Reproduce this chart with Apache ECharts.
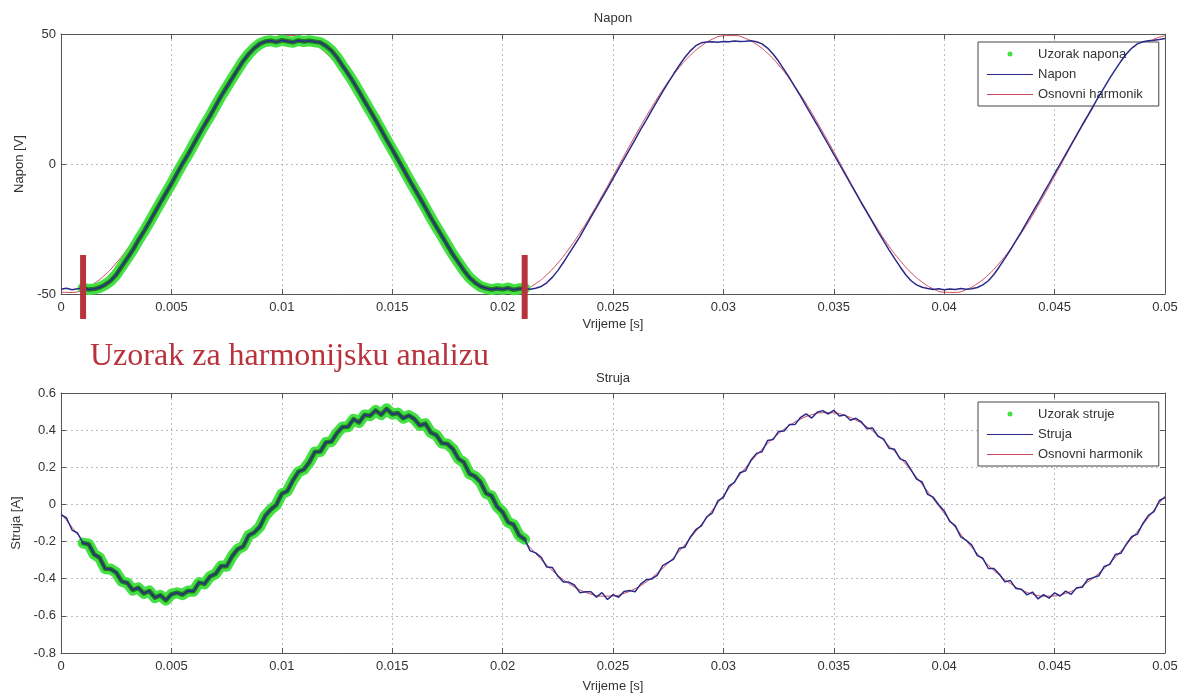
<!DOCTYPE html>
<html><head><meta charset="utf-8">
<script src="https://cdn.jsdelivr.net/npm/echarts@6/dist/echarts.min.js"></script>
<style>html,body{margin:0;padding:0;background:#fff}#c{width:1188px;height:698px}</style>
</head><body><div id="c"></div>
<script>
// time step of the measured signals and of the fitted fundamental [s]
const T_STEP = 0.00025;
const H_STEP = 0.0005;
// analysed window (one period)
const SAMPLE_START = 0.001;
const SAMPLE_END = 0.021;

// x axis ticks [s]
const X_MIN = 0, X_MAX = 0.05, X_INT = 0.005;
// y axis ticks
const V_MIN = -50, V_MAX = 50, V_INT = 50;
const I_MIN = -0.8, I_MAX = 0.6, I_INT = 0.2;

// measured voltage [V], every T_STEP
const napon = [
 -48.2,-47.8,-48.4,-48.0,-47.7,-48.3,-48.1,-47.5,-46.4,-44.9,
 -42.6,-39.4,-36.3,-33.1,-29.4,-26.0,-22.4,-18.6,-14.9,-11.2,
 -7.6,-3.7,0.1,3.6,7.5,11.3,15.0,18.5,22.3,26.1,
 29.5,32.9,36.3,39.6,42.3,44.5,46.2,47.1,47.4,46.9,
 47.6,47.2,46.8,47.5,47.1,47.4,47.0,46.7,45.4,43.6,
 41.0,37.8,34.7,31.4,27.8,24.1,20.5,16.9,13.1,9.3,
 5.6,1.9,-1.9,-5.7,-9.4,-13.0,-16.8,-20.6,-24.2,-27.7,
 -31.3,-34.8,-37.9,-41.0,-43.7,-45.6,-47.1,-47.8,-48.3,-47.9,
 -48.2,-47.7,-48.4,-48.0,-47.8,-48.2,-47.8,-47.1,-45.7,-43.6,
 -41.0,-37.9,-34.6,-31.3,-27.9,-24.2,-20.4,-16.8,-13.1,-9.5,
 -5.6,-1.9,1.9,5.6,9.4,13.2,16.8,20.5,24.2,27.8,
 31.3,34.7,37.9,41.0,43.5,45.5,46.6,46.9,47.0,46.8,
 47.1,47.0,47.3,47.1,47.2,47.4,47.0,46.2,44.6,42.3,
 39.5,36.3,33.0,29.5,26.0,22.3,18.6,15.0,11.2,7.5,
 3.7,0.0,-3.7,-7.5,-11.2,-15.0,-18.6,-22.3,-26.0,-29.5,
 -33.0,-36.3,-39.5,-42.5,-44.9,-46.5,-47.4,-47.9,-48.3,-48.0,
 -48.4,-48.1,-48.3,-47.9,-48.2,-48.0,-47.5,-46.5,-44.9,-42.5,
 -39.5,-36.3,-33.0,-29.5,-26.0,-22.3,-18.6,-15.0,-11.2,-7.5,
 -3.7,0.0,3.7,7.5,11.2,15.0,18.6,22.3,26.0,29.5,
 33.0,36.3,39.5,42.3,44.6,46.2,47.0,47.4,47.6,47.9,
 48.3
];

// fundamental of the voltage [V], every H_STEP
const naponHarmonik = [
 -49.3,-49.4,-48.3,-46.0,-42.6,-38.1,-32.7,-26.5,-19.7,-12.3,
 -4.7,3.1,10.8,18.2,25.2,31.6,37.1,41.8,45.4,48.0,
 49.3,49.4,48.3,46.0,42.6,38.1,32.7,26.5,19.7,12.3,
 4.7,-3.1,-10.8,-18.2,-25.2,-31.6,-37.1,-41.8,-45.4,-48.0,
 -49.3,-49.4,-48.3,-46.0,-42.6,-38.1,-32.7,-26.5,-19.7,-12.3,
 -4.7,3.1,10.8,18.2,25.2,31.6,37.1,41.8,45.4,48.0,
 49.3,49.4,48.3,46.0,42.6,38.1,32.7,26.5,19.7,12.3,
 4.7,-3.1,-10.8,-18.2,-25.2,-31.6,-37.1,-41.8,-45.4,-48.0,
 -49.3,-49.4,-48.3,-46.0,-42.6,-38.1,-32.7,-26.5,-19.7,-12.3,
 -4.7,3.1,10.8,18.2,25.2,31.6,37.1,41.8,45.4,48.0,
 49.3
];

// measured current [A], every T_STEP
const struja = [
 -0.055,-0.073,-0.138,-0.154,-0.208,-0.214,-0.269,-0.287,-0.346,-0.348,
 -0.367,-0.414,-0.423,-0.461,-0.449,-0.479,-0.466,-0.502,-0.489,-0.516,
 -0.484,-0.475,-0.486,-0.466,-0.468,-0.421,-0.428,-0.388,-0.374,-0.332,
 -0.333,-0.279,-0.241,-0.226,-0.167,-0.151,-0.121,-0.061,-0.027,-0.003,
 0.057,0.072,0.129,0.175,0.188,0.228,0.283,0.285,0.334,0.339,
 0.384,0.417,0.418,0.459,0.441,0.482,0.478,0.506,0.483,0.515,
 0.486,0.492,0.464,0.479,0.460,0.425,0.435,0.387,0.373,0.330,
 0.326,0.298,0.246,0.226,0.165,0.151,0.120,0.060,0.046,-0.012,
 -0.041,-0.096,-0.109,-0.167,-0.188,-0.250,-0.261,-0.285,-0.337,-0.339,
 -0.386,-0.418,-0.418,-0.434,-0.475,-0.470,-0.470,-0.499,-0.475,-0.512,
 -0.486,-0.500,-0.469,-0.463,-0.470,-0.429,-0.406,-0.402,-0.382,-0.330,
 -0.312,-0.294,-0.236,-0.231,-0.176,-0.136,-0.116,-0.067,-0.045,0.019,
 0.038,0.098,0.119,0.171,0.181,0.239,0.275,0.284,0.344,0.349,
 0.393,0.395,0.431,0.431,0.469,0.488,0.465,0.496,0.505,0.487,
 0.507,0.476,0.482,0.453,0.464,0.444,0.407,0.412,0.367,0.353,
 0.303,0.297,0.245,0.233,0.186,0.136,0.121,0.054,0.039,-0.002,
 -0.035,-0.091,-0.114,-0.175,-0.193,-0.219,-0.276,-0.290,-0.345,-0.345,
 -0.376,-0.417,-0.410,-0.453,-0.457,-0.487,-0.472,-0.509,-0.486,-0.505,
 -0.476,-0.493,-0.467,-0.484,-0.448,-0.446,-0.404,-0.394,-0.384,-0.334,
 -0.323,-0.270,-0.263,-0.214,-0.173,-0.160,-0.102,-0.059,-0.039,0.021,
 0.037
];

// fundamental of the current [A], every H_STEP
const strujaHarmonik = [
 -0.047,-0.123,-0.197,-0.265,-0.327,-0.381,-0.426,-0.460,-0.483,-0.494,
 -0.493,-0.479,-0.454,-0.418,-0.371,-0.316,-0.252,-0.182,-0.108,-0.031,
 0.047,0.123,0.197,0.265,0.327,0.381,0.426,0.460,0.483,0.494,
 0.493,0.479,0.454,0.418,0.371,0.316,0.252,0.182,0.108,0.031,
 -0.047,-0.123,-0.197,-0.265,-0.327,-0.381,-0.426,-0.460,-0.483,-0.494,
 -0.493,-0.479,-0.454,-0.418,-0.371,-0.316,-0.252,-0.182,-0.108,-0.031,
 0.047,0.123,0.197,0.265,0.327,0.381,0.426,0.460,0.483,0.494,
 0.493,0.479,0.454,0.418,0.371,0.316,0.252,0.182,0.108,0.031,
 -0.047,-0.123,-0.197,-0.265,-0.327,-0.381,-0.426,-0.460,-0.483,-0.494,
 -0.493,-0.479,-0.454,-0.418,-0.371,-0.316,-0.252,-0.182,-0.108,-0.031,
 0.047
];

const LEG_V = ['Uzorak napona', 'Napon', 'Osnovni harmonik'];
const LEG_I = ['Uzorak struje', 'Struja', 'Osnovni harmonik'];

// ---------- build ----------
const pairs = (arr, step) => arr.map((v, i) => [+(i * step).toFixed(6), v]);
const inWindow = p => p[0] >= SAMPLE_START - 1e-9 && p[0] <= SAMPLE_END + 1e-9;

const vData = pairs(napon, T_STEP);
const vHarm = pairs(naponHarmonik, H_STEP);
const iData = pairs(struja, T_STEP);
const iHarm = pairs(strujaHarmonik, H_STEP);

const FONT = 'Liberation Sans, Arial, sans-serif';
const TXT = '#333';
const GREEN = '#45e045';
const GREEN_DARK = '#1f7a1f';
const NAVY = '#2a2a8a';
const RED = '#cc4a5c';
const DOT_ICON = 'path://M0,0 M46,14 M20.5,7 A2.5,2.5 0 1,0 25.5,7 A2.5,2.5 0 1,0 20.5,7 Z';
const LINE_ICON = 'path://M0,6.5 L46,6.5 L46,7.6 L0,7.6 Z';

const fmt = (d) => (v) => String(+(+v).toFixed(d));

function xAxes(grid, nameGap) {
  return [{
    gridIndex: grid, type: 'value', min: X_MIN, max: X_MAX, interval: X_INT, position: 'bottom',
    name: 'Vrijeme [s]', nameLocation: 'middle', nameGap: nameGap,
    nameTextStyle: { fontSize: 13, color: TXT, fontFamily: FONT },
    axisLine: { show: true, onZero: false, lineStyle: { color: '#555', width: 1 } },
    axisTick: { show: true, inside: true, length: 5, lineStyle: { color: '#555' } },
    axisLabel: { margin: 7, fontSize: 13, color: TXT, fontFamily: FONT, formatter: fmt(4) },
    splitLine: { show: true, lineStyle: { color: '#bdbdbd', type: [2, 3], width: 1 } }
  }, {
    gridIndex: grid, type: 'value', min: X_MIN, max: X_MAX, interval: X_INT, position: 'top',
    axisLine: { show: true, onZero: false, lineStyle: { color: '#555', width: 1 } },
    axisTick: { show: true, inside: true, length: 5, lineStyle: { color: '#555' } },
    axisLabel: { show: false }, splitLine: { show: false }
  }];
}
function yAxes(grid, min, max, intv, name, nameGap, dec) {
  return [{
    gridIndex: grid, type: 'value', min: min, max: max, interval: intv, position: 'left',
    name: name, nameLocation: 'middle', nameGap: nameGap,
    nameTextStyle: { fontSize: 13, color: TXT, fontFamily: FONT },
    axisLine: { show: true, onZero: false, lineStyle: { color: '#555', width: 1 } },
    axisTick: { show: true, inside: true, length: 5, lineStyle: { color: '#555' } },
    axisLabel: { margin: 5, fontSize: 13, color: TXT, fontFamily: FONT, formatter: fmt(dec) },
    splitLine: { show: true, lineStyle: { color: '#bdbdbd', type: [2, 3], width: 1 } }
  }, {
    gridIndex: grid, type: 'value', min: min, max: max, interval: intv, position: 'right',
    axisLine: { show: true, onZero: false, lineStyle: { color: '#555', width: 1 } },
    axisTick: { show: true, inside: true, length: 5, lineStyle: { color: '#555' } },
    axisLabel: { show: false }, splitLine: { show: false }
  }];
}
function legend(names, top) {
  return {
    orient: 'vertical', left: 978, top: top, itemWidth: 46, itemHeight: 14, itemGap: 7,
    padding: [5, 16, 5, 9], borderColor: '#444', borderWidth: 1, backgroundColor: '#fff',
    selectedMode: false, textStyle: { fontSize: 13, color: TXT, fontFamily: FONT },
    data: [{ name: names[0], icon: DOT_ICON }, { name: names[1], icon: LINE_ICON }, { name: names[2], icon: LINE_ICON }]
  };
}
function sampleSeries(name, xi, yi, data, color, width, z) {
  // dense sample markers rendered as a continuous band
  return { name: name, type: 'line', xAxisIndex: xi, yAxisIndex: yi, data: data,
    symbol: 'none', showSymbol: false, z: z,
    lineStyle: { color: color, width: width, cap: 'round', join: 'round' }, itemStyle: { color: GREEN } };
}

const chart = echarts.init(document.getElementById('c'), null, { renderer: 'canvas' });
const vSample = vData.filter(inWindow);
const iSample = iData.filter(inWindow);
chart.setOption({
  animation: false,
  backgroundColor: '#fff',
  textStyle: { fontFamily: FONT },
  grid: [
    { left: 61, top: 34, width: 1104, height: 260, outerBoundsMode: 'none', containLabel: false },
    { left: 61, top: 393, width: 1104, height: 260, outerBoundsMode: 'none', containLabel: false }
  ],
  xAxis: [...xAxes(0, 24), ...xAxes(1, 27)],
  yAxis: [...yAxes(0, V_MIN, V_MAX, V_INT, 'Napon [V]', 31, 0), ...yAxes(1, I_MIN, I_MAX, I_INT, 'Struja [A]', 36, 2)],
  legend: [legend(LEG_V, 42), legend(LEG_I, 402)],
  series: [
    { name: LEG_V[2], type: 'line', xAxisIndex: 0, yAxisIndex: 0, data: vHarm, smooth: true,
      symbol: 'none', showSymbol: false, lineStyle: { color: RED, width: 1 }, itemStyle: { color: RED }, z: 1 },
    sampleSeries(LEG_V[0], 0, 0, vSample, GREEN, 11, 2),
    sampleSeries(LEG_V[0], 0, 0, vSample, GREEN_DARK, 4.5, 3),
    { name: LEG_V[1], type: 'line', xAxisIndex: 0, yAxisIndex: 0, data: vData,
      symbol: 'none', showSymbol: false, lineStyle: { color: NAVY, width: 1.5 }, itemStyle: { color: NAVY }, z: 4 },
    { name: LEG_I[2], type: 'line', xAxisIndex: 2, yAxisIndex: 2, data: iHarm, smooth: true,
      symbol: 'none', showSymbol: false, lineStyle: { color: RED, width: 1 }, itemStyle: { color: RED }, z: 1 },
    sampleSeries(LEG_I[0], 2, 2, iSample, GREEN, 11, 2),
    sampleSeries(LEG_I[0], 2, 2, iSample, GREEN_DARK, 4.5, 3),
    { name: LEG_I[1], type: 'line', xAxisIndex: 2, yAxisIndex: 2, data: iData,
      symbol: 'none', showSymbol: false, lineStyle: { color: NAVY, width: 1.5 }, itemStyle: { color: NAVY }, z: 4 }
  ]
});

// titles, annotation text and window markers
const g0 = chart.convertToPixel({ xAxisIndex: 0, yAxisIndex: 0 }, [SAMPLE_START, V_MIN]);
const g1 = chart.convertToPixel({ xAxisIndex: 0, yAxisIndex: 0 }, [SAMPLE_END, V_MIN]);
const top0 = chart.convertToPixel({ xAxisIndex: 0, yAxisIndex: 0 }, [X_MAX / 2, V_MAX]);
const top1 = chart.convertToPixel({ xAxisIndex: 2, yAxisIndex: 2 }, [X_MAX / 2, I_MAX]);
chart.setOption({
  graphic: [
    { type: 'text', id: 't0', x: top0[0], y: top0[1] - 16, z: 50,
      style: { text: 'Napon', fontSize: 13, fontFamily: FONT, fill: TXT, align: 'center', verticalAlign: 'middle' } },
    { type: 'text', id: 't1', x: top1[0], y: top1[1] - 15, z: 50,
      style: { text: 'Struja', fontSize: 13, fontFamily: FONT, fill: TXT, align: 'center', verticalAlign: 'middle' } },
    { type: 'text', id: 'ann', x: 90, y: 357, z: 50,
      style: { text: 'Uzorak za harmonijsku analizu', fontSize: 32, fontFamily: 'Liberation Serif, Times New Roman, serif',
               fill: '#b8323c', align: 'left', verticalAlign: 'middle' } },
    { type: 'rect', id: 'm0', z: 60, shape: { x: g0[0] - 3, y: g0[1] - 39, width: 6, height: 64 }, style: { fill: '#b8323c' } },
    { type: 'rect', id: 'm1', z: 60, shape: { x: g1[0] - 3, y: g1[1] - 39, width: 6, height: 64 }, style: { fill: '#b8323c' } }
  ]
});
</script></body></html>
